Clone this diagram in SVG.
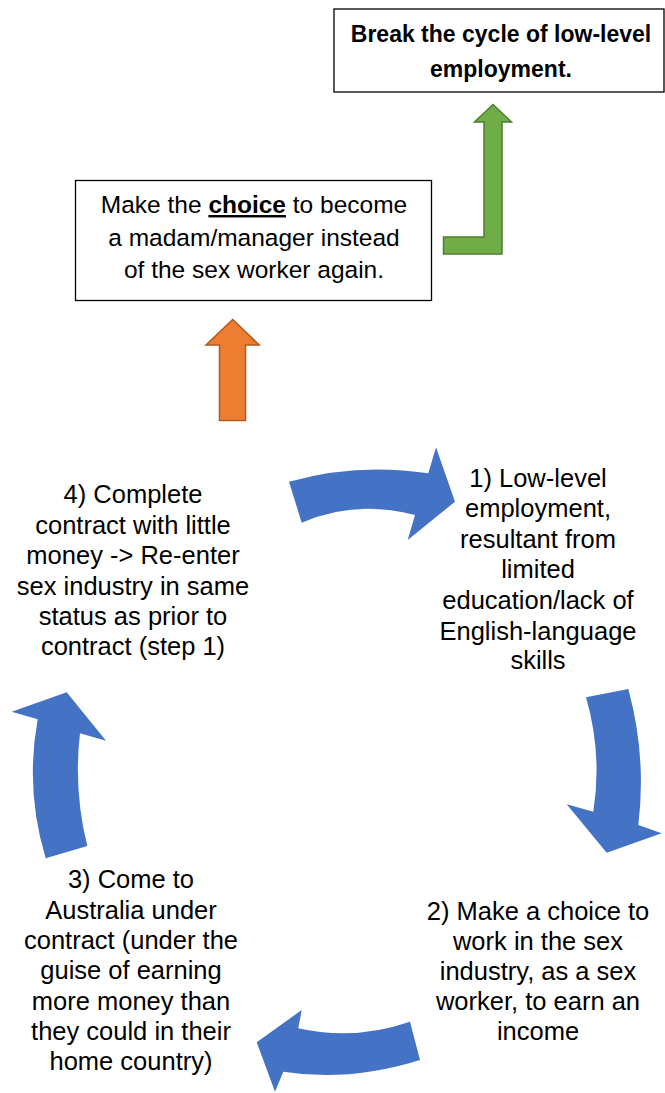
<svg xmlns="http://www.w3.org/2000/svg" width="665" height="1093" viewBox="0 0 665 1093">
<style>
.box{fill:#fff;stroke:#000;stroke-width:1.3}
.t{font-family:"Liberation Sans",Arial,sans-serif;font-size:25.5px;fill:#000;text-anchor:middle}
.m{font-size:24.5px}
.b{font-weight:bold;font-size:23px}
.blue{fill:#4472C4}
</style>
<rect width="665" height="1093" fill="#fff"/>
<g id="goal">
<rect class="box" x="334" y="9" width="330" height="83"/>
<text class="t b" x="501" y="42">Break the cycle of low-level</text>
<text class="t b" x="501" y="77">employment.</text>
</g>
<g id="choice">
<rect class="box" x="75.5" y="180.5" width="356" height="120"/>
<text class="t m" x="254" y="213">Make the <tspan font-weight="bold" text-decoration="underline">choice</tspan> to become</text>
<text class="t m" x="254" y="246">a madam/manager instead</text>
<text class="t m" x="254" y="278">of the sex worker again.</text>
</g>
<g id="step1">
<text class="t" x="538" y="487">1) Low-level</text>
<text class="t" x="538" y="517">employment,</text>
<text class="t" x="538" y="548">resultant from</text>
<text class="t" x="538" y="578">limited</text>
<text class="t" x="538" y="609">education/lack of</text>
<text class="t" x="538" y="640">English-language</text>
<text class="t" x="538" y="669">skills</text>
</g>
<g id="step2">
<text class="t" x="538" y="920">2) Make a choice to</text>
<text class="t" x="538" y="950">work in the sex</text>
<text class="t" x="538" y="980">industry, as a sex</text>
<text class="t" x="538" y="1010">worker, to earn an</text>
<text class="t" x="538" y="1040">income</text>
</g>
<g id="step3">
<text class="t" x="131" y="888">3) Come to</text>
<text class="t" x="131" y="919">Australia under</text>
<text class="t" x="131" y="949">contract (under the</text>
<text class="t" x="131" y="979">guise of earning</text>
<text class="t" x="131" y="1010">more money than</text>
<text class="t" x="131" y="1040">they could in their</text>
<text class="t" x="131" y="1070">home country)</text>
</g>
<g id="step4">
<text class="t" x="133" y="503">4) Complete</text>
<text class="t" x="133" y="534">contract with little</text>
<text class="t" x="133" y="564">money -&gt; Re-enter</text>
<text class="t" x="133" y="595">sex industry in same</text>
<text class="t" x="133" y="625">status as prior to</text>
<text class="t" x="133" y="655">contract (step 1)</text>
</g>
<g id="connectors">
<path class="blue" d="M289,481.7 Q357,462.5 428.3,473.3 L436,447.3 L455,501.7 L407.7,540 L415,515 Q355,499.2 301.7,522.7 Z"/>
<path class="blue" d="M586,697.3 L628.3,689 Q646.7,756.5 638.3,825 L661.7,833.3 L606.7,852.7 L566.7,804.3 L593.3,811.7 Q602.4,753.5 586,697.3 Z"/>
<path class="blue" d="M420,1060 Q348.4,1082.2 283.3,1071.7 L275,1091.7 L256.7,1042.3 L301.7,1010 L298.3,1028.3 Q353.9,1041 410,1021.7 Z"/>
<path class="blue" d="M45.7,858.3 Q24.9,789.2 37.7,719.3 L11.7,711.7 L66.7,692.3 L106,740.7 L80,733.3 Q73.4,790.4 87.3,846 Z"/>
<path d="M219.5,420.5 L219.5,345 L206,345 L232.7,319.5 L259.3,345 L245.5,345 L245.5,420.5 Z" fill="#ED7D31" stroke="#AE5A21" stroke-width="1.5"/>
<path d="M443.5,237 L484,237 L484,122 L474.5,122 L493,104.5 L511.5,122 L502,122 L502,254 L443.5,254 Z" fill="#70AD47" stroke="#507E32" stroke-width="1.5"/>
</g>
</svg>
